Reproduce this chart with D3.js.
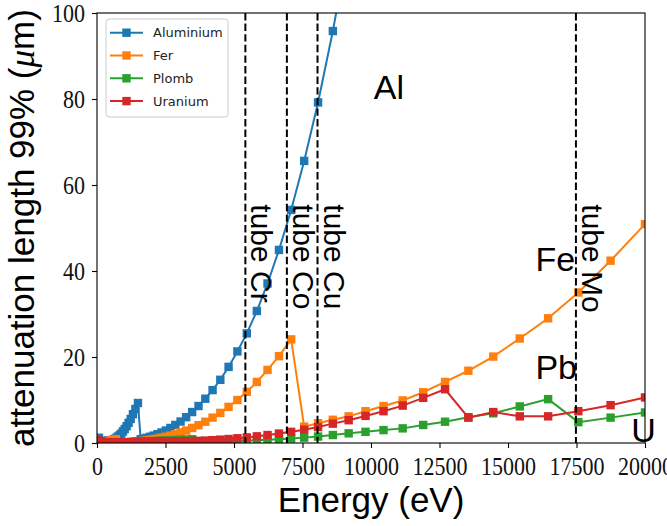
<!DOCTYPE html>
<html>
<head>
<meta charset="utf-8">
<script src="https://cdn.jsdelivr.net/npm/d3@7"></script>
<style>
  body { margin: 0; background: #fff; }
  svg { display: block; }
</style>
</head>
<body>
<div id="chart"></div>
<script>
// photon energy grid (eV), shared by every element
const energy = [
  32.5, 34.7, 37.0, 39.5, 42.2, 45.0, 48.0, 51.2, 54.7, 58.3,
  62.3, 66.4, 70.9, 75.6, 80.7, 86.1, 91.9, 98.0, 104.6, 111.6,
  119.1, 127.1, 135.6, 144.7, 154.4, 164.7, 175.7, 187.5, 200, 213.5,
  228, 243, 259, 277, 295, 315, 336, 359, 383, 408,
  436, 465, 496, 529, 565, 603, 643, 686, 732, 781,
  833, 889, 949, 1012, 1080, 1153, 1230, 1312, 1400, 1494,
  1594, 1701, 1815, 1937, 2067, 2205, 2353, 2511, 2679, 2858,
  3050, 3254, 3472, 3705, 3953, 4218, 4501, 4802, 5124, 5467,
  5834, 6224, 6641, 7086, 7561, 8068, 8608, 9185, 9800, 10457,
  11157, 11905, 12702, 13553, 14461, 15430, 16464, 17567, 18744, 20000
];

// attenuation length 99% (um)
const aluminium = [
  0.6, 0.65, 0.7, 0.75, 0.8, 0.85, 0.9, 0.95, 1.0, 1.05,
  1.1, 1.15, 1.2, 0.1, 0.1, 0.11, 0.12, 0.13, 0.14, 0.15,
  0.16, 0.17, 0.18, 0.2, 0.21, 0.22, 0.24, 0.26, 0.28, 0.3,
  0.32, 0.34, 0.36, 0.38, 0.4, 0.42, 0.44, 0.46, 0.48, 0.5,
  0.52, 0.55, 0.58, 0.62, 0.66, 0.75, 0.9, 1.08, 1.3, 1.55,
  1.85, 2.2, 2.7, 3.25, 3.9, 4.7, 5.6, 6.7, 7.9, 9.3,
  0.87, 1.03, 1.22, 1.45, 1.72, 2.05, 2.45, 2.9, 3.5, 4.2,
  5.0, 6.0, 7.2, 8.6, 10.3, 12.3, 14.7, 17.7, 21.3, 25.5,
  30.7, 37.1, 44.9, 54.2, 65.6, 79.2, 95.8, 116, 140, 168,
  202, 242, 290, 347, 415, 496, 592, 705, 838, 995
];
const fer = [
  0.12, 0.13, 0.14, 0.15, 0.16, 0.17, 0.18, 0.19, 0.05, 0.05,
  0.05, 0.06, 0.06, 0.06, 0.07, 0.07, 0.07, 0.08, 0.08, 0.09,
  0.09, 0.1, 0.1, 0.11, 0.11, 0.12, 0.13, 0.14, 0.15, 0.16,
  0.17, 0.18, 0.2, 0.21, 0.23, 0.25, 0.27, 0.3, 0.33, 0.37,
  0.41, 0.46, 0.51, 0.57, 0.64, 0.72, 0.8, 0.9, 0.07, 0.08,
  0.09, 0.1, 0.11, 0.13, 0.15, 0.18, 0.21, 0.25, 0.3, 0.35,
  0.42, 0.5, 0.6, 0.72, 0.86, 1.02, 1.22, 1.45, 1.72, 2.05,
  2.45, 2.9, 3.5, 4.15, 4.95, 5.9, 7.0, 8.4, 10.0, 11.9,
  14.2, 17.0, 20.2, 24.1, 3.8, 4.6, 5.4, 6.2, 7.4, 8.6,
  9.9, 11.8, 14.2, 16.8, 20.1, 24.3, 29.0, 35.0, 42.4, 50.9
];
const plomb = [
  0.4, 0.39, 0.38, 0.37, 0.36, 0.35, 0.34, 0.33, 0.32, 0.31,
  0.3, 0.29, 0.28, 0.27, 0.26, 0.25, 0.24, 0.23, 0.22, 0.21,
  0.2, 0.19, 0.18, 0.17, 0.16, 0.15, 0.14, 0.14, 0.13, 0.13,
  0.12, 0.12, 0.11, 0.11, 0.1, 0.1, 0.1, 0.1, 0.1, 0.1,
  0.1, 0.1, 0.1, 0.1, 0.11, 0.11, 0.12, 0.12, 0.13, 0.14,
  0.15, 0.16, 0.17, 0.18, 0.19, 0.2, 0.22, 0.24, 0.26, 0.28,
  0.3, 0.33, 0.36, 0.4, 0.44, 0.48, 0.53, 0.58, 0.63, 0.69,
  0.75, 0.82, 0.88, 0.42, 0.45, 0.5, 0.45, 0.48, 0.5, 0.55,
  0.62, 0.75, 0.9, 1.05, 1.25, 1.5, 1.85, 2.25, 2.6, 3.0,
  3.4, 4.2, 4.95, 6.0, 6.9, 8.5, 10.2, 4.85, 5.9, 7.1
];
const uranium = [
  0.55, 0.53, 0.52, 0.5, 0.48, 0.47, 0.45, 0.44, 0.42, 0.41,
  0.4, 0.38, 0.37, 0.36, 0.35, 0.33, 0.32, 0.31, 0.3, 0.29,
  0.28, 0.27, 0.26, 0.25, 0.24, 0.23, 0.22, 0.21, 0.2, 0.2,
  0.19, 0.18, 0.18, 0.17, 0.16, 0.16, 0.15, 0.15, 0.14, 0.14,
  0.13, 0.13, 0.13, 0.12, 0.12, 0.12, 0.12, 0.12, 0.12, 0.12,
  0.13, 0.13, 0.14, 0.15, 0.16, 0.17, 0.18, 0.2, 0.22, 0.24,
  0.26, 0.28, 0.31, 0.34, 0.37, 0.41, 0.45, 0.38, 0.4, 0.42,
  0.42, 0.44, 0.47, 0.5, 0.55, 0.66, 0.78, 0.93, 1.1, 1.3,
  1.55, 1.85, 2.2, 2.6, 3.1, 3.7, 4.5, 5.3, 6.3, 7.4,
  8.7, 10.5, 12.5, 5.9, 7.2, 6.2, 6.2, 7.4, 8.8, 10.6
];

const seriesNames = ["Aluminium", "Fer", "Plomb", "Uranium"];
const seriesValues = [aluminium, fer, plomb, uranium];
const seriesColors = ["#1f77b4", "#ff7f0e", "#2ca02c", "#d62728"];

// X-ray tube K-alpha lines (eV)
const tubeNames = ["tube Cr", "tube Co", "tube Cu", "tube Mo"];
const tubeEnergies = [5415, 6930, 8048, 17479];

const xTicks = [0, 2500, 5000, 7500, 10000, 12500, 15000, 17500, 20000];
const yTicks = [0, 20, 40, 60, 80, 100];

const width = 667;
const height = 526;
const plot = { left: 97, right: 645, top: 13, bottom: 443 };

const x = d3.scaleLinear().domain([0, 20000]).range([plot.left, plot.right]);
const y = d3.scaleLinear().domain([0, 100]).range([plot.bottom, plot.top]);

const sans = "'Liberation Sans', Arial, sans-serif";
const serif = "'Liberation Serif', 'Times New Roman', serif";

const svg = d3.select("#chart")
    .append("svg")
    .attr("width", width)
    .attr("height", height)
    .attr("viewBox", [0, 0, width, height]);

svg.append("defs")
    .append("clipPath")
    .attr("id", "plotclip")
    .append("rect")
    .attr("x", plot.left)
    .attr("y", plot.top)
    .attr("width", plot.right - plot.left)
    .attr("height", plot.bottom - plot.top);

// axes
const xAxis = d3.axisBottom(x).tickValues(xTicks).tickSize(5).tickPadding(9).tickFormat(d3.format("d"));
const yAxis = d3.axisLeft(y).tickValues(yTicks).tickSize(5).tickPadding(7).tickFormat(d3.format("d"));

svg.append("g")
    .attr("transform", `translate(0,${plot.bottom})`)
    .call(xAxis)
    .call(g => g.select(".domain").remove())
    .call(g => g.selectAll("line").attr("stroke", "#000").attr("stroke-width", 1.1))
    .call(g => g.selectAll("text")
        .attr("font-family", serif)
        .attr("font-size", 26)
        .attr("fill", "#111")
        .attr("textLength", d => String(d).length * 11)
        .attr("lengthAdjust", "spacingAndGlyphs"));

svg.append("g")
    .attr("transform", `translate(${plot.left},0)`)
    .call(yAxis)
    .call(g => g.select(".domain").remove())
    .call(g => g.selectAll("line").attr("stroke", "#000").attr("stroke-width", 1.1))
    .call(g => g.selectAll("text")
        .attr("font-family", serif)
        .attr("font-size", 26)
        .attr("fill", "#111")
        .attr("textLength", d => String(d).length * 11)
        .attr("lengthAdjust", "spacingAndGlyphs"));

// series
const dataLayer = svg.append("g").attr("clip-path", "url(#plotclip)");

const line = d3.line()
    .x((d, i) => x(energy[i]))
    .y(d => y(d));

seriesValues.forEach((vals, s) => {
    const g = dataLayer.append("g");
    g.append("path")
        .datum(vals)
        .attr("d", line)
        .attr("fill", "none")
        .attr("stroke", seriesColors[s])
        .attr("stroke-width", 2);
    g.selectAll("rect")
        .data(vals)
        .join("rect")
        .attr("x", (d, i) => x(energy[i]) - 4.2)
        .attr("y", d => y(d) - 4.2)
        .attr("width", 8.4)
        .attr("height", 8.4)
        .attr("fill", seriesColors[s]);
});

// tube lines
dataLayer.selectAll("line.tube")
    .data(tubeEnergies)
    .join("line")
    .attr("class", "tube")
    .attr("x1", d => x(d))
    .attr("x2", d => x(d))
    .attr("y1", plot.top)
    .attr("y2", plot.bottom)
    .attr("stroke", "#000")
    .attr("stroke-width", 2)
    .attr("stroke-dasharray", "7.4,3.2");

svg.selectAll("text.tube")
    .data(tubeEnergies)
    .join("text")
    .attr("class", "tube")
    .attr("transform", d => `translate(${x(d) + 6},${y(55.5)}) rotate(90)`)
    .attr("font-family", sans)
    .attr("font-size", 30)
    .attr("fill", "#000")
    .text((d, i) => tubeNames[i]);

// frame
svg.append("rect")
    .attr("x", plot.left)
    .attr("y", plot.top)
    .attr("width", plot.right - plot.left)
    .attr("height", plot.bottom - plot.top)
    .attr("fill", "none")
    .attr("stroke", "#000")
    .attr("stroke-width", 1.1);

// element names next to the curves
const elementLabels = [["Al", 10100, 80], ["Fe", 16000, 40], ["Pb", 16000, 15], ["U", 19500, 0.3]];
svg.selectAll("text.elem")
    .data(elementLabels)
    .join("text")
    .attr("class", "elem")
    .attr("x", d => x(d[1]))
    .attr("y", d => y(d[2]))
    .attr("font-family", sans)
    .attr("font-size", 34)
    .attr("fill", "#000")
    .text(d => d[0]);

// axis titles
svg.append("text")
    .attr("x", (plot.left + plot.right) / 2)
    .attr("y", 512)
    .attr("text-anchor", "middle")
    .attr("font-family", sans)
    .attr("font-size", 35)
    .attr("fill", "#000")
    .text("Energy (eV)");

const ylab = svg.append("text")
    .attr("transform", `translate(34,${(plot.top + plot.bottom) / 2}) rotate(-90)`)
    .attr("text-anchor", "middle")
    .attr("font-family", sans)
    .attr("font-size", 35)
    .attr("fill", "#000");
ylab.append("tspan").text("attenuation length 99% (");
ylab.append("tspan").attr("font-family", serif).attr("font-style", "italic").text("\u03bc");
ylab.append("tspan").text("m)");

// legend
const legend = svg.append("g");
legend.append("rect")
    .attr("x", 106)
    .attr("y", 19)
    .attr("width", 122)
    .attr("height", 98)
    .attr("rx", 3)
    .attr("fill", "#fff")
    .attr("fill-opacity", 0.8)
    .attr("stroke", "#cccccc");

const rows = legend.selectAll("g.row")
    .data(seriesNames)
    .join("g")
    .attr("class", "row")
    .attr("transform", (d, i) => `translate(0,${32.7 + i * 22.8})`);
rows.append("line")
    .attr("x1", 110).attr("x2", 143)
    .attr("stroke", (d, i) => seriesColors[i])
    .attr("stroke-width", 2);
rows.append("rect")
    .attr("x", 126.5 - 4.2).attr("y", -4.2)
    .attr("width", 8.4).attr("height", 8.4)
    .attr("fill", (d, i) => seriesColors[i]);
rows.append("text")
    .attr("x", 153)
    .attr("y", 4.7)
    .attr("font-family", "'DejaVu Sans', sans-serif")
    .attr("font-size", 13)
    .attr("fill", "#222")
    .text(d => d);
</script>
</body>
</html>
